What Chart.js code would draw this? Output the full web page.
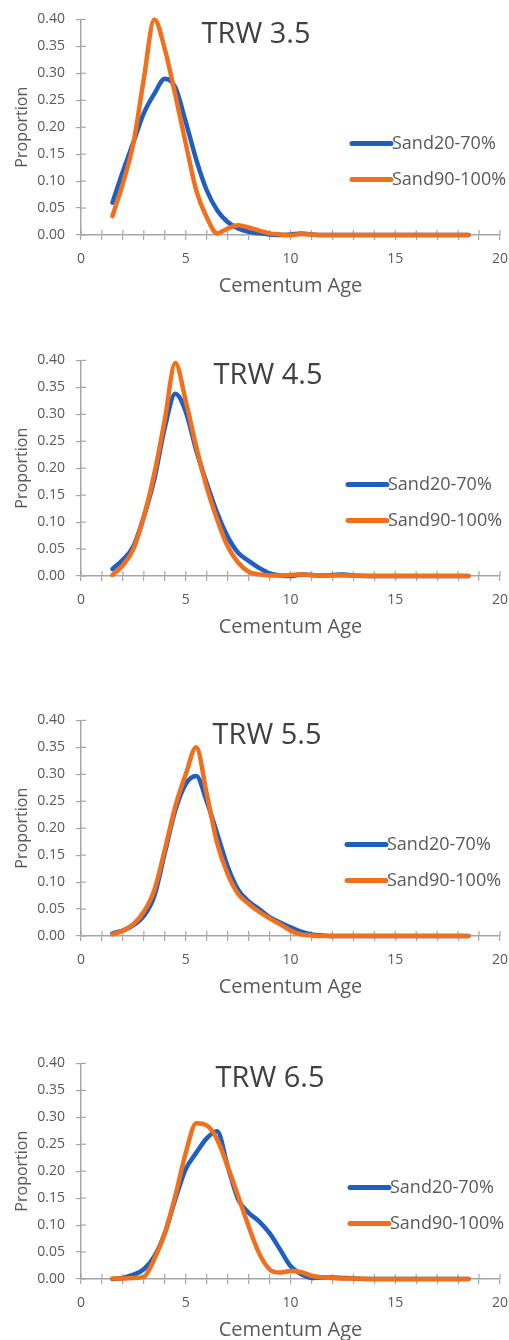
<!DOCTYPE html>
<html>
<head>
<meta charset="utf-8">
<script src="https://cdn.jsdelivr.net/npm/chart.js@4.4.1/dist/chart.umd.min.js"></script>
<style>
  html, body { margin: 0; padding: 0; background: #fff; }
  body { width: 509px; height: 1340px; overflow: hidden; position: relative; }
  .panel { position: absolute; left: 0; width: 509px; height: 300px; }
</style>
</head>
<body>
<div class="panel" style="top:0px"><canvas id="c1" width="509" height="300"></canvas></div>
<div class="panel" style="top:341px"><canvas id="c2" width="509" height="300"></canvas></div>
<div class="panel" style="top:701px"><canvas id="c3" width="509" height="300"></canvas></div>
<div class="panel" style="top:1044px"><canvas id="c4" width="509" height="300"></canvas></div>
<script>
// Cementum age (x values shared by every curve)
const ages = [1.5, 2, 2.5, 3, 3.5, 4, 4.5, 5, 5.5, 6, 6.5, 7, 7.5, 8, 8.5, 9, 9.5, 10,
              10.5, 11, 11.5, 12, 12.5, 13, 14, 15, 16, 17, 18, 18.5];

const seriesNames = ['Sand20-70%', 'Sand90-100%'];
const panelTitles = ['TRW 3.5', 'TRW 4.5', 'TRW 5.5', 'TRW 6.5'];
const xTicks = [0, 5, 10, 15, 20];

// proportions
const trw35Sand20 = [0.060, 0.118, 0.172, 0.226, 0.262, 0.290, 0.274, 0.210, 0.140, 0.083, 0.046, 0.024,
                     0.012, 0.006, 0.003, 0.001, 0, 0.001, 0.003, 0.001, 0, 0, 0, 0, 0, 0, 0, 0, 0, 0];
const trw35Sand90 = [0.035, 0.096, 0.170, 0.290, 0.400, 0.345, 0.260, 0.170, 0.083, 0.033, 0.003, 0.012,
                     0.018, 0.014, 0.008, 0.003, 0.001, 0, 0.002, 0.001, 0, 0, 0, 0, 0, 0, 0, 0, 0, 0];

const trw45Sand20 = [0.013, 0.030, 0.055, 0.110, 0.180, 0.275, 0.338, 0.305, 0.233, 0.172, 0.117, 0.073,
                     0.043, 0.028, 0.015, 0.005, 0.001, 0, 0.003, 0.002, 0.001, 0.002, 0.003, 0.001, 0, 0, 0, 0, 0, 0];
const trw45Sand90 = [0.002, 0.020, 0.050, 0.110, 0.190, 0.290, 0.395, 0.325, 0.240, 0.165, 0.105, 0.055,
                     0.025, 0.008, 0.003, 0.001, 0.001, 0.002, 0.003, 0.002, 0.001, 0.001, 0.001, 0.001, 0, 0, 0, 0, 0, 0];

const trw55Sand20 = [0.005, 0.010, 0.020, 0.037, 0.074, 0.154, 0.233, 0.282, 0.297, 0.250, 0.190, 0.129,
                     0.086, 0.064, 0.050, 0.035, 0.025, 0.016, 0.008, 0.003, 0.001, 0, 0, 0, 0, 0, 0, 0, 0, 0];
const trw55Sand90 = [0.003, 0.010, 0.022, 0.045, 0.085, 0.160, 0.240, 0.300, 0.350, 0.264, 0.172, 0.115,
                     0.078, 0.060, 0.045, 0.033, 0.022, 0.010, 0.003, 0.001, 0, 0, 0, 0, 0, 0, 0, 0, 0, 0];

const trw65Sand20 = [0, 0.002, 0.008, 0.018, 0.042, 0.085, 0.148, 0.204, 0.234, 0.261, 0.274, 0.209,
                     0.148, 0.123, 0.107, 0.085, 0.055, 0.024, 0.009, 0.002, 0.003, 0.003, 0.002, 0.001, 0, 0, 0, 0, 0, 0];
const trw65Sand90 = [0.001, 0.001, 0.002, 0.004, 0.037, 0.085, 0.154, 0.234, 0.289, 0.285, 0.259, 0.209,
                     0.154, 0.098, 0.048, 0.018, 0.012, 0.015, 0.013, 0.006, 0.003, 0.002, 0.001, 0.001, 0, 0, 0, 0, 0, 0];

const blue = '#1f5fc2';
const orange = '#f0701e';
const axisGrey = '#a6a6a6';
const textGrey = '#595959';
const fontFamily = '"Open Sans", "Liberation Sans", sans-serif';

// title, crossing tick marks and the in-plot legend
const panelDecor = {
    id: 'panelDecor',
    beforeDatasetsDraw(chart) {
        const { ctx, chartArea: a, scales } = chart;
        ctx.save();
        ctx.strokeStyle = axisGrey;
        ctx.lineWidth = 1.2;
        scales.x.ticks.forEach(t => {
            const px = scales.x.getPixelForValue(t.value);
            ctx.beginPath();
            ctx.moveTo(px, a.bottom - 5);
            ctx.lineTo(px, a.bottom);
            ctx.stroke();
        });
        scales.y.ticks.forEach(t => {
            const py = scales.y.getPixelForValue(t.value);
            ctx.beginPath();
            ctx.moveTo(a.left, py);
            ctx.lineTo(a.left + 5, py);
            ctx.stroke();
        });
        ctx.restore();
    },
    afterDatasetsDraw(chart, args, opts) {
        const { ctx, chartArea: a } = chart;
        ctx.save();
        ctx.fillStyle = '#404040';
        ctx.font = '29px ' + fontFamily;
        ctx.textAlign = 'center';
        ctx.textBaseline = 'middle';
        ctx.fillText(opts.title, opts.titleX, a.top + 15);

        ctx.font = '18px ' + fontFamily;
        ctx.textAlign = 'left';
        chart.data.datasets.forEach((ds, i) => {
            const y = a.top + 124 + i * 36;
            ctx.strokeStyle = ds.borderColor;
            ctx.lineWidth = 5;
            ctx.lineCap = 'round';
            ctx.beginPath();
            ctx.moveTo(opts.legendX, y);
            ctx.lineTo(opts.legendX + 39, y);
            ctx.stroke();
            ctx.fillStyle = textGrey;
            ctx.fillText(ds.label, opts.legendX + 40, y);
        });
        ctx.restore();
    }
};

function makePanel(id, title, titleX, legendX, sand20, sand90) {
    const ctx = document.getElementById(id).getContext('2d');
    return new Chart(ctx, {
        type: 'line',
        data: {
            datasets: [{
                label: seriesNames[0],
                data: ages.map((a, i) => ({ x: a, y: sand20[i] })),
                borderColor: blue,
                order: 1
            }, {
                label: seriesNames[1],
                data: ages.map((a, i) => ({ x: a, y: sand90[i] })),
                borderColor: orange,
                order: 0
            }]
        },
        options: {
            responsive: false,
            animation: false,
            clip: 8,
            layout: { padding: { left: 0, right: 2, top: 18, bottom: 0 } },
            elements: {
                line: { borderWidth: 4.5, cubicInterpolationMode: 'monotone', fill: false, borderCapStyle: 'round', borderJoinStyle: 'round' },
                point: { radius: 0, hoverRadius: 0 }
            },
            plugins: {
                legend: { display: false },
                tooltip: { enabled: false },
                panelDecor: { title: title, titleX: titleX, legendX: legendX }
            },
            scales: {
                x: {
                    type: 'linear',
                    min: 0,
                    max: 20,
                    afterFit: s => { s.height = 65; s.paddingRight = 9; },
                    grid: { drawOnChartArea: false, drawTicks: true, tickLength: 5, color: axisGrey, lineWidth: 1.2 },
                    border: { display: true, color: axisGrey, width: 1.5 },
                    ticks: {
                        stepSize: 1,
                        autoSkip: false,
                        maxRotation: 0,
                        padding: 11,
                        color: textGrey,
                        font: { family: fontFamily, size: 14 },
                        callback: v => xTicks.includes(v) ? String(v) : ''
                    },
                    title: {
                        display: true,
                        text: 'Cementum Age',
                        color: textGrey,
                        font: { family: fontFamily, size: 20 },
                        padding: { top: 0, bottom: 2 }
                    }
                },
                y: {
                    min: 0,
                    max: 0.4,
                    afterFit: s => { s.width = 81; },
                    grid: { drawOnChartArea: false, drawTicks: true, tickLength: 5, color: axisGrey, lineWidth: 1.2 },
                    border: { display: true, color: axisGrey, width: 1.5 },
                    ticks: {
                        stepSize: 0.05,
                        padding: 11,
                        color: textGrey,
                        font: { family: fontFamily, size: 14 },
                        callback: v => v.toFixed(2)
                    },
                    title: {
                        display: true,
                        text: 'Proportion',
                        color: textGrey,
                        font: { family: fontFamily, size: 16 },
                        padding: { top: 13, bottom: 0 }
                    }
                }
            }
        },
        plugins: [panelDecor]
    });
}

document.addEventListener('DOMContentLoaded', function() {
    makePanel('c1', panelTitles[0], 256, 352, trw35Sand20, trw35Sand90);
    makePanel('c2', panelTitles[1], 268, 348, trw45Sand20, trw45Sand90);
    makePanel('c3', panelTitles[2], 267, 347, trw55Sand20, trw55Sand90);
    makePanel('c4', panelTitles[3], 270, 350, trw65Sand20, trw65Sand90);
});
</script>
</body>
</html>
